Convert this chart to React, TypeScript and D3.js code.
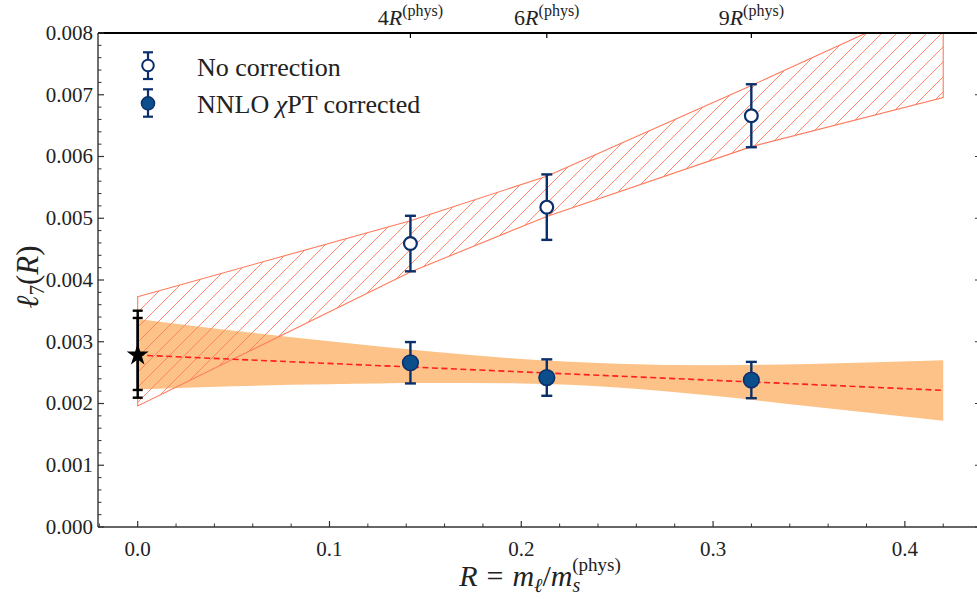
import React from 'react';
import * as d3 from 'd3';

// ---------- data ----------
const R_PHYS = 0.03555;
const massMultiples = [4, 6, 9];
const topTickLabels = ['4', '6', '9'];

const uncorrected = [0.00459, 0.00518, 0.00666];
const uncorrectedErr = [0.00045, 0.00053, 0.00051];
const corrected = [0.00266, 0.00242, 0.00238];
const correctedErr = [0.000335, 0.000295, 0.000294];

const physX = 0;
const physY = 0.002785;
const physErrOuter = [0.000691, 0.000718]; // lower, upper
const physErrInner = [0.000566, 0.0006];

const hatchX = [0, 0.1422, 0.2133, 0.32, 0.42];
const hatchLo = [0.00196, 0.00413, 0.00503, 0.00616, 0.006953];
const hatchHi = [0.00373, 0.00496, 0.00568, 0.00715, 0.00857];

const bandX = [0, 0.05, 0.1, 0.15, 0.2, 0.25, 0.3, 0.35, 0.42];
const bandHi = [0.003368, 0.00318, 0.00301, 0.00285, 0.00272, 0.002645, 0.00262, 0.00264, 0.002699];
const bandLo = [0.002225, 0.00228, 0.00231, 0.00233, 0.002325, 0.00226, 0.002125, 0.001956, 0.001721];

const fitX = [0, 0.42];
const fitY = [0.002785, 0.002213];

const xTicks = [0, 0.1, 0.2, 0.3, 0.4];
const xTickLabels = ['0.0', '0.1', '0.2', '0.3', '0.4'];
const yTicks = [0, 0.001, 0.002, 0.003, 0.004, 0.005, 0.006, 0.007, 0.008];
const yTickLabels = ['0.000', '0.001', '0.002', '0.003', '0.004', '0.005', '0.006', '0.007', '0.008'];

// ---------- layout ----------
const W = 977;
const H = 599;
const L = 98;
const T = 33;
const Rt = 981;
const B = 527;

const FONT = "'Liberation Serif', 'Times New Roman', 'DejaVu Serif', serif";
const BLUE_EDGE = '#0b2f6b';
const BLUE_FILL = '#0a4f8c';
const HATCH = '#ff7b5c';
const BAND = '#fdc288';

export default function App() {
  const x = d3.scaleLinear().domain([-0.0207, 0.4397]).range([L, Rt]);
  const y = d3.scaleLinear().domain([0, 0.008]).range([B, T]);

  const xMinor = d3.range(-0.02, 0.4401, 0.02).filter(v => Math.abs(Math.round(v * 10) / 10 - v) > 1e-6);
  const yMinor = d3.range(0, 0.00801, 0.0002).filter(v => Math.abs(Math.round(v * 1000) / 1000 - v) > 1e-9);

  const hatchArea = d3.area<number>()
    .x((_, i) => x(hatchX[i]))
    .y0((_, i) => y(hatchLo[i]))
    .y1((_, i) => y(hatchHi[i]));
  const hatchPath = hatchArea(hatchX) || '';

  const bandArea = d3.area<number>()
    .x((_, i) => x(bandX[i]))
    .y0((_, i) => y(bandLo[i]))
    .y1((_, i) => y(bandHi[i]))
    .curve(d3.curveMonotoneX);
  const bandPath = bandArea(bandX) || '';

  const fitLine = d3.line<number>().x((_, i) => x(fitX[i])).y((_, i) => y(fitY[i]));

  const starPath = d3.symbol().type(d3.symbolStar).size(150)() || '';

  const xs = massMultiples.map(m => m * R_PHYS);

  const errBar = (cx: number, lo: number, hi: number, color: string, sw: number, cap: number, key: string) => (
    <g key={key} stroke={color} strokeWidth={sw}>
      <line x1={cx} x2={cx} y1={lo} y2={hi} />
      <line x1={cx - cap} x2={cx + cap} y1={lo} y2={lo} />
      <line x1={cx - cap} x2={cx + cap} y1={hi} y2={hi} />
    </g>
  );

  return (
    <svg width={W} height={H} style={{ position: 'absolute', left: 0, top: 0, background: '#fff' }} fontFamily={FONT}>
      <defs>
        <clipPath id="plotClip">
          <rect x={L} y={T} width={Rt - L} height={B - T} />
        </clipPath>
        <pattern id="hatch" patternUnits="userSpaceOnUse" width={15} height={15}>
          <path d="M-3.75,3.75 L3.75,-3.75 M0,15 L15,0 M11.25,18.75 L18.75,11.25" stroke={HATCH} strokeWidth={0.9} />
        </pattern>
      </defs>

      <g clipPath="url(#plotClip)">
        <path d={bandPath} fill={BAND} />
        <path d={hatchPath} fill="url(#hatch)" stroke={HATCH} strokeWidth={1.1} />
        <path d={fitLine(fitX) || ''} fill="none" stroke="#ff1f1f" strokeWidth={1.6} strokeDasharray="6,3.5" />
      </g>

      {/* physical point */}
      {errBar(x(physX), y(physY - physErrOuter[0]), y(physY + physErrOuter[1]), '#000', 2.4, 5, 'po')}
      {errBar(x(physX), y(physY - physErrInner[0]), y(physY + physErrInner[1]), '#000', 2.4, 5, 'pi')}
      <path d={starPath} transform={`translate(${x(physX)},${y(physY)})`} fill="#000" />

      {/* uncorrected */}
      {xs.map((xv, i) => errBar(x(xv), y(uncorrected[i] - uncorrectedErr[i]), y(uncorrected[i] + uncorrectedErr[i]), BLUE_EDGE, 2.4, 5.5, 'u' + i))}
      {xs.map((xv, i) => (
        <circle key={'uc' + i} cx={x(xv)} cy={y(uncorrected[i])} r={6.4} fill="#fff" stroke={BLUE_EDGE} strokeWidth={2.2} />
      ))}

      {/* corrected */}
      {xs.map((xv, i) => errBar(x(xv), y(corrected[i] - correctedErr[i]), y(corrected[i] + correctedErr[i]), BLUE_EDGE, 2.4, 5.5, 'c' + i))}
      {xs.map((xv, i) => (
        <circle key={'cc' + i} cx={x(xv)} cy={y(corrected[i])} r={7.8} fill={BLUE_FILL} stroke={BLUE_EDGE} strokeWidth={1.6} />
      ))}

      {/* spines */}
      <line x1={L} x2={L} y1={T} y2={B} stroke="#333" strokeWidth={1.4} />
      <line x1={L} x2={Rt} y1={B} y2={B} stroke="#333" strokeWidth={1.4} />
      <line x1={Rt} x2={Rt} y1={T} y2={B} stroke="#333" strokeWidth={1.4} />
      <line x1={L} x2={W + 5} y1={T} y2={T} stroke="#000" strokeWidth={2.2} />

      {/* y ticks */}
      {yTicks.map((v, i) => (
        <g key={'yt' + i}>
          <line x1={L} x2={L + 6} y1={y(v)} y2={y(v)} stroke="#333" strokeWidth={1.2} />
          <line x1={Rt - 6} x2={Rt} y1={y(v)} y2={y(v)} stroke="#333" strokeWidth={1.2} />
          <text x={L - 5} y={y(v)} dy="0.33em" textAnchor="end" fontSize={21} fill="#222">{yTickLabels[i]}</text>
        </g>
      ))}
      {yMinor.map((v, i) => (
        <g key={'ym' + i}>
          <line x1={L} x2={L + 3.5} y1={y(v)} y2={y(v)} stroke="#333" strokeWidth={1} />
          <line x1={Rt - 3.5} x2={Rt} y1={y(v)} y2={y(v)} stroke="#333" strokeWidth={1} />
        </g>
      ))}

      {/* x ticks */}
      {xTicks.map((v, i) => (
        <g key={'xt' + i}>
          <line x1={x(v)} x2={x(v)} y1={B} y2={B - 6} stroke="#333" strokeWidth={1.2} />
          <text x={x(v)} y={556} textAnchor="middle" fontSize={21} fill="#222">{xTickLabels[i]}</text>
        </g>
      ))}
      {xMinor.map((v, i) => (
        <line key={'xm' + i} x1={x(v)} x2={x(v)} y1={B} y2={B - 3.5} stroke="#333" strokeWidth={1} />
      ))}

      {/* top axis */}
      {xs.map((xv, i) => (
        <g key={'tt' + i}>
          <line x1={x(xv)} x2={x(xv)} y1={T} y2={T + 5} stroke="#000" strokeWidth={1.2} />
          <text x={x(xv)} y={25} textAnchor="middle" fontSize={22} fill="#222">
            <tspan>{topTickLabels[i]}</tspan>
            <tspan fontStyle="italic">R</tspan>
            <tspan fontSize={16} dy={-9}>(phys)</tspan>
          </text>
        </g>
      ))}

      {/* axis labels */}
      <text x={540} y={586} textAnchor="middle" fontSize={30} fill="#222">
        <tspan fontStyle="italic">R</tspan>
        <tspan dx={9}>=</tspan>
        <tspan fontStyle="italic" dx={9}>m</tspan>
        <tspan fontStyle="italic" fontSize={20} dy={6}>ℓ</tspan>
        <tspan dy={-6}>/</tspan>
        <tspan fontStyle="italic">m</tspan>
        <tspan fontStyle="italic" fontSize={20} dy={6}>s</tspan>
        <tspan fontSize={19} dx={-8} dy={-21}>(phys)</tspan>
      </text>
      <text transform="translate(38,277) rotate(-90)" textAnchor="middle" fontSize={31} fill="#222">
        <tspan fontStyle="italic">ℓ</tspan>
        <tspan fontSize={21} dy={6}>7</tspan>
        <tspan dy={-6}>(</tspan>
        <tspan fontStyle="italic">R</tspan>
        <tspan>)</tspan>
      </text>

      {/* legend */}
      {errBar(148, 79, 52.3, BLUE_EDGE, 2.2, 5, 'l1')}
      <circle cx={148} cy={65.5} r={5.8} fill="#fff" stroke={BLUE_EDGE} strokeWidth={2} />
      <text x={197} y={76} fontSize={26} fill="#222">No correction</text>
      {errBar(148, 116.7, 89.3, BLUE_EDGE, 2.2, 5, 'l2')}
      <circle cx={148} cy={103.3} r={6.6} fill={BLUE_FILL} stroke={BLUE_EDGE} strokeWidth={1.4} />
      <text x={197} y={113} fontSize={26} fill="#222">
        <tspan>NNLO </tspan>
        <tspan fontStyle="italic">χ</tspan>
        <tspan>PT corrected</tspan>
      </text>
    </svg>
  );
}
